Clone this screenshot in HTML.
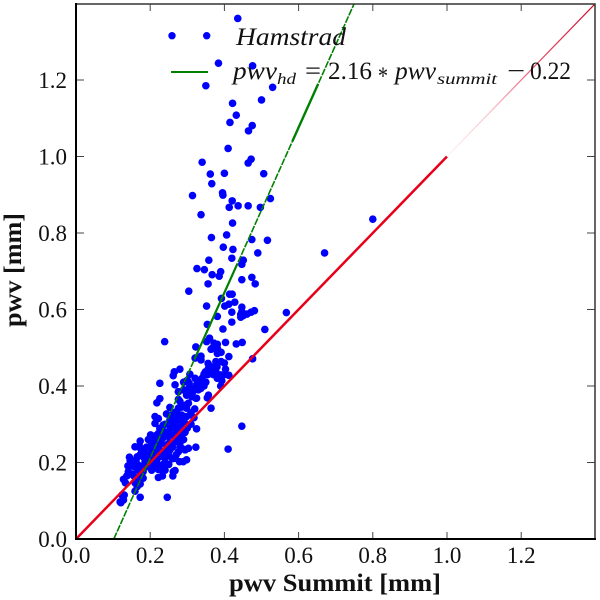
<!DOCTYPE html>
<html lang="en">
<head>
<meta charset="utf-8">
<title>pwv vs pwv Summit</title>
<style>
html,body{margin:0;padding:0;background:#fff;width:600px;height:600px;overflow:hidden}
svg{display:block}
text{font-family:"Liberation Serif","DejaVu Serif",serif;fill:#111}
</style>
</head>
<body>
<svg id="chart" width="600" height="600" viewBox="0 0 600 600" xmlns="http://www.w3.org/2000/svg">
<defs>
<clipPath id="plot-clip"><rect x="76" y="4" width="519" height="535"/></clipPath>
</defs>
<rect x="76" y="4" width="519" height="535" fill="#fff"/>
<g id="points" clip-path="url(#plot-clip)"></g>
<g id="lines" clip-path="url(#plot-clip)"></g>
<g id="ticks"></g>
<path d="M76 4H595V539" fill="none" stroke="#333" stroke-width="1.5"/>
<path d="M76 3V539H596" fill="none" stroke="#000" stroke-width="2"/>
<g id="labels"></g>
<text x="229" y="591" font-size="25" font-weight="bold" textLength="212" lengthAdjust="spacingAndGlyphs">pwv Summit [mm]</text>
<text transform="translate(21,327) rotate(-90)" font-size="25" font-weight="bold" textLength="114" lengthAdjust="spacingAndGlyphs">pwv [mm]</text>
<g>
<circle cx="172" cy="35.7" r="3.7" fill="#0000ff"/>
<circle cx="206.7" cy="35.7" r="3.7" fill="#0000ff"/>
<text x="236" y="45" font-size="25" font-style="italic" textLength="110" lengthAdjust="spacingAndGlyphs">Hamstrad</text>
<line x1="171" y1="72" x2="208" y2="72" stroke="#008000" stroke-width="2"/>
<g>
<text x="233" y="79" font-size="25" font-style="italic" textLength="44" lengthAdjust="spacingAndGlyphs">pwv</text>
<text x="277" y="84" font-size="16" font-style="italic" textLength="19" lengthAdjust="spacingAndGlyphs">hd</text>
<text x="305" y="79" font-size="25" textLength="16" lengthAdjust="spacingAndGlyphs">=</text>
<text x="328" y="79" font-size="25" textLength="44" lengthAdjust="spacingAndGlyphs">2.16</text>
<text x="378" y="84" font-size="25" textLength="10" lengthAdjust="spacingAndGlyphs">*</text>
<text x="395" y="79" font-size="25" font-style="italic" textLength="41" lengthAdjust="spacingAndGlyphs">pwv</text>
<text x="437" y="84" font-size="16" font-style="italic" textLength="60" lengthAdjust="spacingAndGlyphs">summit</text>
<text x="507" y="79" font-size="25" textLength="18" lengthAdjust="spacingAndGlyphs">−</text>
<text x="530" y="79" font-size="25" textLength="41" lengthAdjust="spacingAndGlyphs">0.22</text>
</g>
</g>
</svg>
<script>
const tickLabels = ["0.0","0.2","0.4","0.6","0.8","1.0","1.2"];
const tickValues = [0,0.2,0.4,0.6,0.8,1.0,1.2];
const fitSlope = 2.16;
const fitIntercept = -0.22;
const axisLimit = 1.4;
const pwvSummit = [.436,.384,.476,.350,.530,.500,.422,.432,.415,.475,.465,.410,.340,.472,.464,.362,.400,.506,
.366,.314,.395,.396,.421,.524,.413,.437,.464,.497,.337,.422,.406,.365,.474,.516,.397,.423,.490,.420,.451,.358,.447,.326,.346,.390,.367,.386,.474,.447,.483,.356,.304,.414,.421,.392,.428,.412,.401,.352,.447,.420,.481,.472,.461,.447,.444,.444,.451,.567,.381,.420,.354,.396,.509,.239,.360,.352,.372,.381,.403,.432,.448,.323,.366,.377,
.800,.670,.447,.410,
.364,.381,.391,.381,.321,.337,.337,.412,.377,.391,.476,.265,.280,.262,.356,.357,.349,.363,.345,.377,.390,.403,.412,.381,.393,.307,.321,.334,.337,.325,.226,.267,.305,.303,.316,.276,.298,.312,.323,.276,.357,.354,.364,.226,.218,
.119,.121,.128,.124,.130,.173,.246,.159,
.128,.133,.137,.141,.140,.144,.146,.159,.171,.173,.165,.173,.162,.168,.177,.165,.181,.173,.156,.168,.159,.173,.165,.181,.190,.186,.181,.199,.208,.217,.225,.204,.222,.231,.222,.233,.262,.267,.261,.201,.213,.199,.204,.217,.226,.235,.249,.253,.267,.279,.289,.298,.294,.303,.285,.276,.280,.267,.258,.244,.323,.325,.294,.285,.271,.262,.249,.231,.222,.226,.213,.213,.222,.235,.253,.267,.280,.294,.318,.298,.285,.271,.253,.244,.258,.276,.298,.303,.325,.298,.276,
.190,.210,.240,.250,.230,.240,.260,.270,.200,.190,.215,.225,.280,.255,.240,.270,.290,.310,.295,.310,.280,.290,.320,.330,.340,.350,.370,.390,
.285,.265,.275,.290,.310,.260,.250,.235,.215,.205,.195,.185,.175,.155,.150,.160,.190,.210,.235,.245,.280,.270,.260,.250,.240,.270,.300,.280,.330,.315,.345,.355,.370,.400,.400,.380,.300,.290];
const pwvHamstrad = [1.361,1.244,1.237,1.185,1.181,1.148,1.139,1.108,1.089,1.081,1.067,1.021,.985,.993,.983,.954,.956,.955,
.929,.898,.905,.899,.884,.890,.867,.871,.871,.867,.848,.826,.795,.788,.783,.781,.763,.757,.748,.734,.729,.729,.718,.707,.704,.699,.691,.687,.684,.678,.667,.667,.648,.640,.640,.629,.619,.614,.609,.609,.606,.593,.597,.593,.588,.594,.587,.580,.584,.592,.582,.567,.561,.549,.548,.516,.525,.516,.512,.509,.514,.510,.514,.502,.498,.498,
.836,.748,.295,.235,
.496,.499,.488,.485,.473,.478,.468,.477,.464,.464,.471,.437,.444,.427,.459,.446,.437,.437,.431,.437,.429,.444,.428,.420,.414,.431,.420,.411,.394,.403,.407,.403,.407,.392,.394,.385,.376,.372,.368,.365,.376,.369,.342,.367,.356,
.097,.095,.102,.115,.115,.109,.109,.125,
.156,.147,.165,.176,.191,.214,.205,.241,.243,.256,.215,.220,.207,.193,.189,.182,.176,.167,.165,.159,.147,.144,.137,.159,.189,.202,.215,.220,.215,.207,.193,.180,.182,.180,.161,.165,.176,.179,.165,.272,.259,.241,.228,.241,.233,.224,.220,.233,.211,.202,.202,.207,.233,.237,.237,.228,.250,.254,.250,.246,.240,.288,.279,.285,.281,.272,.268,.263,.276,.289,.302,.320,.315,.298,.311,.311,.302,.302,.317,.320,.324,.333,.344,.327,.324,.342,.342,.355,.368,.381,.385,
.240,.190,.280,.250,.250,.210,.240,.260,.200,.210,.225,.215,.270,.290,.300,.290,.260,.300,.350,.330,.360,.390,.340,.390,.420,.410,.430,.400,
.345,.330,.320,.315,.325,.300,.280,.265,.270,.255,.260,.225,.235,.190,.170,.205,.195,.205,.195,.235,.240,.220,.210,.195,.180,.270,.290,.310,.410,.385,.400,.430,.450,.430,.460,.450,.415,.410];

const SVGNS = "http://www.w3.org/2000/svg";
function xScale(v){ return 76 + 371 * v; }
function yScale(v){ return 539 - 382.5 * v; }
function fit(x){ return fitSlope * x + fitIntercept; }
function fitInverse(y){ return (y - fitIntercept) / fitSlope; }

const pointsLayer = document.getElementById("points");
pwvSummit.forEach(function(x, i){
  const c = document.createElementNS(SVGNS, "circle");
  
  
  c.setAttribute("cx", xScale(x));
  c.setAttribute("cy", yScale(pwvHamstrad[i]));
  c.setAttribute("r", 3.8);
  c.setAttribute("fill", "#0000ff");
  pointsLayer.appendChild(c);
});

const linesLayer = document.getElementById("lines");
function addLine(x0, y0, x1, y1, color, width, dash){
  const l = document.createElementNS(SVGNS, "line");
  l.setAttribute("x1", xScale(x0));
  l.setAttribute("y1", yScale(y0));
  l.setAttribute("x2", xScale(x1));
  l.setAttribute("y2", yScale(y1));
  l.setAttribute("stroke", color);
  l.setAttribute("stroke-width", width);
  if (dash) l.setAttribute("stroke-dasharray", dash);
  linesLayer.appendChild(l);
  return l;
}
const unityLine = addLine(0, 0, 1, 1, "#e8001a", 2.5);



const grad = document.createElementNS(SVGNS, "linearGradient");
grad.setAttribute("id", "fade");
grad.setAttribute("gradientUnits", "userSpaceOnUse");
grad.setAttribute("x1", xScale(1));
grad.setAttribute("y1", yScale(1));
grad.setAttribute("x2", xScale(axisLimit));
grad.setAttribute("y2", yScale(axisLimit));
[["0","#fff4f5"],["0.3","#f8c0c8"],["0.6","#e85068"],["1","#d00020"]].forEach(function(s){
  const stop = document.createElementNS(SVGNS, "stop");
  stop.setAttribute("offset", s[0]);
  stop.setAttribute("stop-color", s[1]);
  grad.appendChild(stop);
});
document.querySelector("defs").appendChild(grad);
const unityExtension = addLine(1, 1, axisLimit, axisLimit, "url(#fade)", 1.2);



const fitLine = addLine(fitInverse(0), 0, fitInverse(axisLimit), axisLimit, "#008000", 1.6, "7 1.2");


const fitSolidUpper = addLine(fitInverse(1.04), fit(fitInverse(1.04)), fitInverse(1.19), fit(fitInverse(1.19)), "#008000", 2.4);


const fitSolidLower = addLine(fitInverse(0.47), fit(fitInverse(0.47)), fitInverse(0.72), fit(fitInverse(0.72)), "#008000", 2.2);



const ticksLayer = document.getElementById("ticks");
function addTick(x1, y1, x2, y2){
  const t = document.createElementNS(SVGNS, "line");
  
  
  t.setAttribute("x1", x1);
  t.setAttribute("y1", y1);
  t.setAttribute("x2", x2);
  t.setAttribute("y2", y2);
  t.setAttribute("stroke", "#444");
  t.setAttribute("stroke-width", 1);
  ticksLayer.appendChild(t);
}
const labelsLayer = document.getElementById("labels");
function addLabel(x, y, anchor, str, name){
  const t = document.createElementNS(SVGNS, "text");
  
  
  t.setAttribute("x", x);
  t.setAttribute("y", y);
  t.setAttribute("text-anchor", anchor);
  t.setAttribute("font-size", 23);
  t.textContent = str;
  labelsLayer.appendChild(t);
}
tickValues.forEach(function(v, i){
  if (i > 0) {
    addTick(xScale(v), 539, xScale(v), 532);
    addTick(xScale(v), 4, xScale(v), 11);
    addTick(76, yScale(v), 84, yScale(v));
    addTick(595, yScale(v), 587, yScale(v));
  }
  addLabel(xScale(v), 563, "middle", tickLabels[i], "x-tick-label");
  addLabel(67, yScale(v) + 8, "end", tickLabels[i], "y-tick-label");
});
</script>
</body>
</html>
